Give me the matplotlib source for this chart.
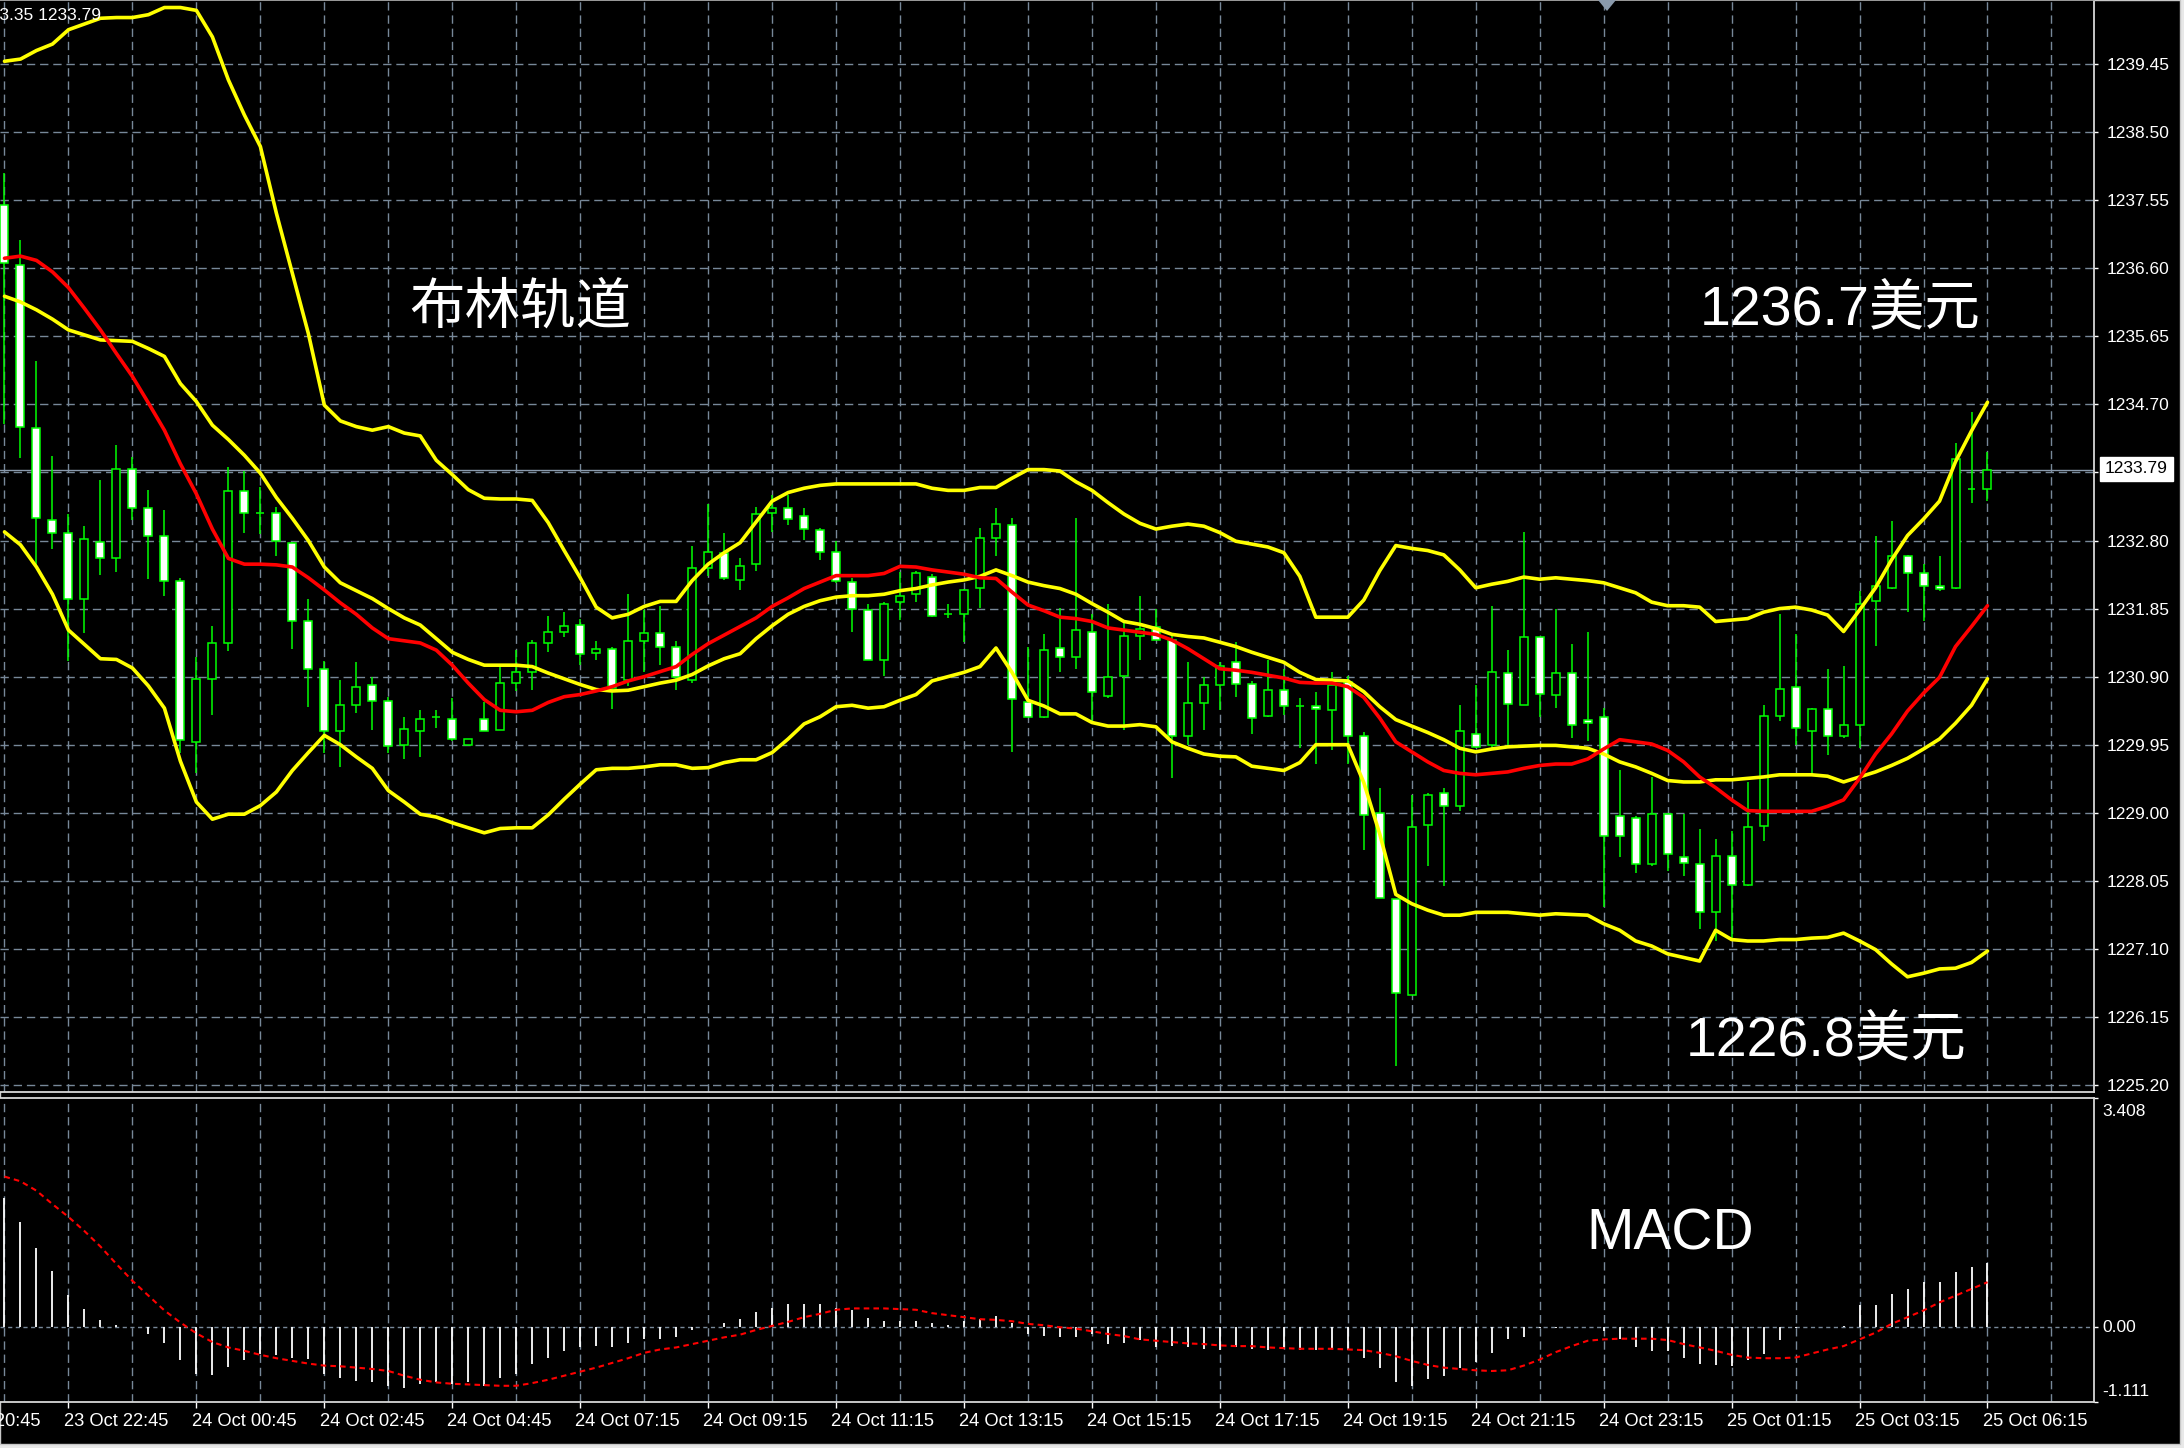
import matplotlib
matplotlib.use("Agg")
import matplotlib.pyplot as plt
import matplotlib.transforms as mtransforms
from matplotlib import font_manager
from matplotlib.patches import Rectangle, Polygon
import numpy as np

plt.rcParams['lines.scale_dashes'] = False

# ---------------- data ----------------
opens = [1237.48, 1236.64, 1234.37, 1233.08, 1232.91, 1231.99, 1232.78, 1232.55, 1233.80, 1233.25,
         1232.86, 1232.24, 1229.99, 1230.87, 1231.37, 1233.49, 1233.19, 1233.19, 1232.77, 1231.68,
         1231.01, 1230.14, 1230.51, 1230.79, 1230.56, 1229.95, 1230.14, 1230.33, 1230.31, 1229.95,
         1230.31, 1230.16, 1230.81, 1230.96, 1231.37, 1231.53, 1231.62, 1231.23, 1231.29, 1230.85,
         1231.40, 1231.51, 1231.32, 1230.85, 1232.41, 1232.63, 1232.25, 1232.47, 1233.19, 1233.25,
         1233.14, 1232.94, 1232.64, 1232.22, 1231.83, 1231.13, 1231.94, 1232.06, 1232.29, 1231.78,
         1231.78, 1232.14, 1232.83, 1233.02, 1230.54, 1230.34, 1231.30, 1231.17, 1231.52, 1230.63,
         1230.91, 1231.47, 1231.59, 1231.41, 1230.07, 1230.53, 1230.78, 1231.10, 1230.80, 1230.35,
         1230.71, 1230.49, 1230.49, 1230.43, 1230.82, 1230.07, 1228.99, 1227.80, 1226.45, 1228.83,
         1229.28, 1229.10, 1230.10, 1229.95, 1230.95, 1230.50, 1231.46, 1230.64, 1230.95, 1230.30,
         1230.33, 1228.96, 1228.93, 1228.28, 1228.98, 1228.38, 1228.28, 1227.62, 1228.40, 1227.99,
         1228.82, 1230.35, 1230.76, 1230.14, 1230.45, 1230.07, 1230.23, 1231.96, 1232.14, 1232.59,
         1232.35, 1232.16, 1232.14, 1233.52, 1233.52]
highs = [1237.93, 1237.00, 1235.30, 1233.98, 1233.17, 1233.00, 1233.64, 1234.14, 1233.96, 1233.50,
         1233.22, 1232.27, 1231.18, 1231.60, 1233.83, 1233.77, 1233.55, 1233.27, 1232.78, 1231.99,
         1231.12, 1230.86, 1231.10, 1230.90, 1230.62, 1230.33, 1230.43, 1230.43, 1230.60, 1230.03,
         1230.54, 1231.04, 1231.27, 1231.41, 1231.74, 1231.80, 1231.70, 1231.40, 1231.32, 1232.05,
         1231.83, 1231.88, 1231.40, 1232.72, 1233.31, 1232.91, 1232.56, 1233.27, 1233.44, 1233.44,
         1233.25, 1232.97, 1232.79, 1232.28, 1231.91, 1231.94, 1232.36, 1232.38, 1232.33, 1231.92,
         1232.13, 1232.98, 1233.25, 1233.12, 1231.32, 1231.50, 1231.86, 1233.12, 1231.78, 1231.91,
         1231.66, 1232.03, 1231.85, 1231.50, 1231.11, 1230.90, 1231.11, 1231.38, 1230.84, 1231.13,
         1231.01, 1230.60, 1230.69, 1230.97, 1230.91, 1230.13, 1229.35, 1227.80, 1229.25, 1229.28,
         1229.35, 1230.51, 1230.78, 1231.89, 1231.27, 1232.92, 1231.46, 1231.85, 1231.35, 1231.52,
         1230.46, 1229.60, 1228.96, 1229.50, 1229.00, 1228.98, 1228.78, 1228.64, 1228.75, 1229.43,
         1230.50, 1231.78, 1231.50, 1230.46, 1231.00, 1231.05, 1232.10, 1232.87, 1233.07, 1232.60,
         1232.47, 1232.59, 1234.16, 1234.59, 1234.04]
lows = [1234.42, 1233.95, 1232.46, 1232.68, 1231.12, 1231.51, 1232.32, 1232.36, 1233.09, 1232.26,
        1232.03, 1229.84, 1229.56, 1230.37, 1231.26, 1232.91, 1232.89, 1232.59, 1231.29, 1230.48,
        1229.84, 1229.64, 1230.39, 1230.16, 1229.84, 1229.75, 1229.78, 1230.18, 1230.00, 1229.95,
        1230.14, 1230.16, 1230.70, 1230.71, 1231.24, 1231.45, 1231.06, 1231.13, 1230.45, 1230.77,
        1230.96, 1231.06, 1230.71, 1230.81, 1232.31, 1232.25, 1232.11, 1232.38, 1232.92, 1233.02,
        1232.81, 1232.53, 1232.21, 1231.52, 1231.13, 1230.91, 1231.69, 1231.94, 1231.73, 1231.72,
        1231.38, 1231.86, 1232.58, 1229.85, 1230.34, 1230.32, 1230.96, 1231.00, 1230.28, 1230.60,
        1230.16, 1231.13, 1231.41, 1229.48, 1229.94, 1230.15, 1230.44, 1230.61, 1230.10, 1230.34,
        1230.36, 1229.90, 1229.68, 1229.87, 1229.68, 1228.48, 1227.81, 1225.46, 1226.45, 1228.26,
        1227.98, 1229.03, 1229.90, 1229.90, 1229.93, 1230.50, 1230.33, 1230.46, 1230.05, 1230.00,
        1227.69, 1228.38, 1228.16, 1228.26, 1228.19, 1228.12, 1227.38, 1227.21, 1227.25, 1227.98,
        1228.60, 1230.28, 1229.95, 1229.53, 1229.80, 1230.05, 1229.90, 1231.33, 1232.12, 1231.80,
        1231.67, 1232.09, 1232.12, 1233.32, 1233.35]
closes = [1236.67, 1234.38, 1233.11, 1232.91, 1231.99, 1232.82, 1232.55, 1233.80, 1233.25, 1232.86,
          1232.24, 1230.01, 1230.87, 1231.37, 1233.49, 1233.19, 1233.19, 1232.80, 1231.68, 1231.01,
          1230.14, 1230.51, 1230.76, 1230.56, 1229.93, 1230.17, 1230.31, 1230.33, 1230.03, 1230.03,
          1230.14, 1230.81, 1230.96, 1231.37, 1231.53, 1231.60, 1231.22, 1231.29, 1230.74, 1231.40,
          1231.51, 1231.32, 1230.90, 1232.41, 1232.64, 1232.28, 1232.44, 1233.17, 1233.26, 1233.10,
          1232.96, 1232.64, 1232.23, 1231.85, 1231.13, 1231.92, 1232.03, 1232.34, 1231.75, 1231.78,
          1232.11, 1232.83, 1233.03, 1230.59, 1230.34, 1231.27, 1231.17, 1231.55, 1230.68, 1230.90,
          1231.47, 1231.57, 1231.41, 1230.07, 1230.53, 1230.78, 1231.05, 1230.80, 1230.32, 1230.71,
          1230.49, 1230.49, 1230.45, 1230.79, 1230.07, 1228.97, 1227.81, 1226.49, 1228.80, 1229.25,
          1229.10, 1230.14, 1229.92, 1230.97, 1230.52, 1231.46, 1230.66, 1230.95, 1230.23, 1230.25,
          1228.68, 1228.68, 1228.28, 1228.98, 1228.43, 1228.30, 1227.62, 1228.40, 1227.99, 1228.80,
          1230.35, 1230.73, 1230.19, 1230.45, 1230.07, 1230.23, 1231.92, 1232.16, 1232.59, 1232.35,
          1232.16, 1232.12, 1233.94, 1233.52, 1233.79]

bb_upper = [1239.49, 1239.52, 1239.64, 1239.73, 1239.93, 1240.01, 1240.09, 1240.10, 1240.10, 1240.14,
            1240.24, 1240.24, 1240.20, 1239.83, 1239.23, 1238.74, 1238.30, 1237.37, 1236.53, 1235.69,
            1234.69, 1234.47, 1234.39, 1234.34, 1234.39, 1234.30, 1234.26, 1233.92, 1233.72, 1233.51,
            1233.39, 1233.38, 1233.38, 1233.36, 1233.05, 1232.66, 1232.28, 1231.87, 1231.72, 1231.77,
            1231.88, 1231.95, 1231.95, 1232.24, 1232.47, 1232.63, 1232.77, 1233.06, 1233.35, 1233.47,
            1233.53, 1233.57, 1233.59, 1233.59, 1233.59, 1233.59, 1233.59, 1233.59, 1233.53, 1233.50,
            1233.50, 1233.54, 1233.54, 1233.67, 1233.79, 1233.79, 1233.77, 1233.62, 1233.50, 1233.33,
            1233.17, 1233.04, 1232.96, 1233.00, 1233.03, 1233.00, 1232.91, 1232.79, 1232.75, 1232.71,
            1232.63, 1232.30, 1231.73, 1231.73, 1231.73, 1231.97, 1232.38, 1232.73, 1232.69, 1232.66,
            1232.60, 1232.39, 1232.14, 1232.19, 1232.23, 1232.29, 1232.26, 1232.28, 1232.26, 1232.24,
            1232.21, 1232.14, 1232.07, 1231.94, 1231.89, 1231.89, 1231.87, 1231.67, 1231.69, 1231.71,
            1231.80, 1231.85, 1231.87, 1231.83, 1231.76, 1231.53, 1231.83, 1232.14, 1232.53, 1232.87,
            1233.10, 1233.35, 1233.90, 1234.33, 1234.73]
bb_middle = [1236.21, 1236.13, 1236.02, 1235.89, 1235.74, 1235.67, 1235.60, 1235.59, 1235.58, 1235.48,
             1235.37, 1234.99, 1234.74, 1234.41, 1234.21, 1233.99, 1233.74, 1233.40, 1233.11, 1232.80,
             1232.43, 1232.21, 1232.10, 1231.99, 1231.85, 1231.72, 1231.62, 1231.43, 1231.24, 1231.14,
             1231.06, 1231.06, 1231.06, 1231.04, 1230.95, 1230.87, 1230.79, 1230.72, 1230.70, 1230.71,
             1230.76, 1230.81, 1230.85, 1230.93, 1231.05, 1231.15, 1231.22, 1231.43, 1231.61, 1231.77,
             1231.88, 1231.96, 1232.01, 1232.03, 1232.03, 1232.05, 1232.10, 1232.13, 1232.18, 1232.22,
             1232.25, 1232.30, 1232.39, 1232.31, 1232.22, 1232.17, 1232.13, 1232.05, 1231.92, 1231.80,
             1231.67, 1231.63, 1231.57, 1231.49, 1231.46, 1231.44, 1231.38, 1231.32, 1231.24, 1231.17,
             1231.10, 1230.96, 1230.86, 1230.85, 1230.84, 1230.69, 1230.48, 1230.30, 1230.21, 1230.12,
             1230.02, 1229.90, 1229.85, 1229.89, 1229.92, 1229.93, 1229.94, 1229.94, 1229.92, 1229.90,
             1229.82, 1229.71, 1229.64, 1229.55, 1229.45, 1229.43, 1229.43, 1229.46, 1229.46, 1229.48,
             1229.50, 1229.53, 1229.53, 1229.53, 1229.51, 1229.43, 1229.50, 1229.57, 1229.66, 1229.76,
             1229.89, 1230.03, 1230.25, 1230.50, 1230.87]
bb_lower = [1232.92, 1232.74, 1232.43, 1232.05, 1231.55, 1231.35, 1231.15, 1231.14, 1231.02, 1230.77,
            1230.46, 1229.72, 1229.15, 1228.91, 1228.98, 1228.98, 1229.10, 1229.29, 1229.59, 1229.84,
            1230.08, 1229.95, 1229.78, 1229.62, 1229.31, 1229.15, 1228.98, 1228.94, 1228.86, 1228.79,
            1228.72, 1228.78, 1228.79, 1228.79, 1228.97, 1229.19, 1229.40, 1229.60, 1229.62, 1229.62,
            1229.64, 1229.67, 1229.67, 1229.62, 1229.63, 1229.70, 1229.74, 1229.74, 1229.84, 1230.03,
            1230.24, 1230.34, 1230.48, 1230.50, 1230.46, 1230.48, 1230.57, 1230.65, 1230.84, 1230.90,
            1230.96, 1231.04, 1231.30, 1230.96, 1230.57, 1230.49, 1230.38, 1230.38, 1230.26, 1230.21,
            1230.21, 1230.23, 1230.20, 1229.99, 1229.90, 1229.82, 1229.79, 1229.78, 1229.65, 1229.62,
            1229.59, 1229.70, 1229.95, 1229.95, 1229.95, 1229.42, 1228.70, 1227.86, 1227.73, 1227.64,
            1227.57, 1227.57, 1227.61, 1227.61, 1227.61, 1227.59, 1227.57, 1227.59, 1227.58, 1227.57,
            1227.45, 1227.36, 1227.21, 1227.14, 1227.03, 1226.98, 1226.93, 1227.36, 1227.23, 1227.21,
            1227.21, 1227.23, 1227.23, 1227.25, 1227.26, 1227.32, 1227.21, 1227.09, 1226.89, 1226.71,
            1226.76, 1226.82, 1226.83, 1226.91, 1227.07]
ma_red = [1236.74, 1236.77, 1236.71, 1236.55, 1236.33, 1236.04, 1235.74, 1235.41, 1235.09, 1234.72,
          1234.34, 1233.87, 1233.45, 1232.96, 1232.55, 1232.47, 1232.47, 1232.46, 1232.43, 1232.28,
          1232.11, 1231.93, 1231.77, 1231.58, 1231.43, 1231.40, 1231.37, 1231.27, 1231.06, 1230.81,
          1230.58, 1230.43, 1230.41, 1230.43, 1230.54, 1230.62, 1230.65, 1230.70, 1230.76, 1230.84,
          1230.90, 1230.97, 1231.04, 1231.21, 1231.36, 1231.48, 1231.60, 1231.72, 1231.88, 1232.00,
          1232.13, 1232.22, 1232.31, 1232.31, 1232.31, 1232.34, 1232.44, 1232.43, 1232.39, 1232.36,
          1232.33, 1232.28, 1232.27, 1232.08, 1231.90, 1231.82, 1231.73, 1231.71, 1231.67, 1231.58,
          1231.55, 1231.52, 1231.49, 1231.41, 1231.29, 1231.15, 1231.01, 1230.99, 1230.96, 1230.92,
          1230.88, 1230.82, 1230.81, 1230.81, 1230.76, 1230.61, 1230.32, 1229.99, 1229.85, 1229.71,
          1229.59, 1229.55, 1229.53, 1229.55, 1229.57, 1229.62, 1229.66, 1229.68, 1229.68, 1229.75,
          1229.89, 1230.02, 1229.99, 1229.96, 1229.87, 1229.71, 1229.50, 1229.35, 1229.18, 1229.03,
          1229.02, 1229.02, 1229.02, 1229.02, 1229.09, 1229.18, 1229.48, 1229.82, 1230.10, 1230.42,
          1230.67, 1230.89, 1231.32, 1231.60, 1231.89]

macd_hist = [1.92, 1.56, 1.18, 0.84, 0.48, 0.27, 0.11, 0.04, 0.01, -0.10,
             -0.23, -0.49, -0.70, -0.71, -0.59, -0.49, -0.40, -0.41, -0.46, -0.47,
             -0.70, -0.76, -0.80, -0.82, -0.87, -0.90, -0.84, -0.82, -0.85, -0.82,
             -0.87, -0.76, -0.69, -0.55, -0.46, -0.36, -0.30, -0.28, -0.29, -0.23,
             -0.18, -0.18, -0.15, -0.04, 0.00, 0.06, 0.12, 0.22, 0.29, 0.35,
             0.35, 0.35, 0.29, 0.25, 0.14, 0.10, 0.10, 0.10, 0.06, 0.04,
             0.09, 0.12, 0.16, 0.06, -0.10, -0.13, -0.15, -0.15, -0.10, -0.25,
             -0.23, -0.19, -0.30, -0.28, -0.30, -0.32, -0.34, -0.30, -0.32, -0.34,
             -0.32, -0.34, -0.34, -0.32, -0.34, -0.45, -0.61, -0.82, -0.87, -0.77,
             -0.72, -0.61, -0.52, -0.39, -0.18, -0.14, -0.01, -0.01, 0.00, 0.00,
             -0.05, -0.18, -0.30, -0.35, -0.36, -0.45, -0.55, -0.56, -0.57, -0.49,
             -0.40, -0.19, -0.01, 0.00, 0.00, 0.02, 0.33, 0.33, 0.49, 0.57,
             0.67, 0.67, 0.82, 0.90, 0.96]
macd_signal = [2.24, 2.17, 2.03, 1.83, 1.64, 1.43, 1.20, 0.94, 0.69, 0.47,
               0.25, 0.07, -0.09, -0.22, -0.30, -0.35, -0.41, -0.46, -0.50, -0.54,
               -0.57, -0.58, -0.60, -0.62, -0.65, -0.72, -0.78, -0.82, -0.84, -0.85,
               -0.86, -0.87, -0.87, -0.83, -0.78, -0.72, -0.66, -0.60, -0.53, -0.46,
               -0.38, -0.33, -0.30, -0.25, -0.20, -0.15, -0.11, -0.04, 0.02, 0.08,
               0.15, 0.20, 0.26, 0.28, 0.28, 0.28, 0.27, 0.26, 0.21, 0.18,
               0.15, 0.12, 0.11, 0.09, 0.05, 0.03, 0.00, -0.02, -0.06, -0.10,
               -0.13, -0.18, -0.20, -0.22, -0.24, -0.25, -0.27, -0.28, -0.28, -0.30,
               -0.31, -0.32, -0.32, -0.32, -0.33, -0.34, -0.38, -0.43, -0.50, -0.56,
               -0.60, -0.62, -0.64, -0.65, -0.64, -0.57, -0.48, -0.37, -0.28, -0.20,
               -0.18, -0.17, -0.17, -0.17, -0.19, -0.25, -0.30, -0.35, -0.41, -0.45,
               -0.46, -0.46, -0.45, -0.39, -0.33, -0.28, -0.18, -0.08, 0.05, 0.15,
               0.25, 0.37, 0.47, 0.57, 0.67]

price_grid = [1239.45, 1238.50, 1237.55, 1236.60, 1235.65, 1234.70, 1233.75, 1232.80,
              1231.85, 1230.90, 1229.95, 1229.00, 1228.05, 1227.10, 1226.15, 1225.20]
price_labels = ["1239.45", "1238.50", "1237.55", "1236.60", "1235.65", "1234.70", "", "1232.80",
                "1231.85", "1230.90", "1229.95", "1229.00", "1228.05", "1227.10", "1226.15", "1225.20"]
bid_price = 1233.79
macd_levels = [3.408, 0.0, -1.111]
macd_labels = ["3.408", "0.00", "-1.111"]
time_pos = [-4, 4, 12, 20, 28, 36, 44, 52, 60, 68, 76, 84, 92, 100, 108, 116, 124]
time_labels = ["23 Oct 20:45", "23 Oct 22:45", "24 Oct 00:45", "24 Oct 02:45", "24 Oct 04:45",
               "24 Oct 07:15", "24 Oct 09:15", "24 Oct 11:15", "24 Oct 13:15", "24 Oct 15:15",
               "24 Oct 17:15", "24 Oct 19:15", "24 Oct 21:15", "24 Oct 23:15", "25 Oct 01:15",
               "25 Oct 03:15", "25 Oct 06:15"]
vgrid_pos = list(range(0, 129, 4))

# ---------------- style ----------------
W, H = 2184, 1448
GRID = '#778899'
GREEN = '#00FF00'
YELLOW = '#FFFF00'
RED = '#FF0000'
SPINE = '#D8D8D8'
LAT = ['Liberation Sans', 'DejaVu Sans']
CJK = ['Liberation Sans', 'Noto Sans CJK SC', 'DejaVu Sans']

installed = {f.name for f in font_manager.fontManager.ttflist}
if 'Liberation Sans Narrow' in installed:
    macd_font, macd_size = ['Liberation Sans Narrow'], 49
elif 'DejaVu Sans Condensed' in installed:
    macd_font, macd_size = ['DejaVu Sans Condensed'], 44
else:
    macd_font, macd_size = ['Liberation Sans', 'DejaVu Sans'], 41

fig = plt.figure(figsize=(W / 100, H / 100), dpi=100, facecolor='#E8E8E8')
fig.add_artist(Rectangle((0, 4 / H), 2180 / W, 1 - 4 / H, transform=fig.transFigure,
                         facecolor='black', edgecolor='#C8C8C8', lw=1.0, zorder=0))

ax = fig.add_axes([0, 1 - 1092 / H, 2094 / W, 1092 / H])
ax2 = fig.add_axes([0, 1 - 1402 / H, 2094 / W, 304 / H])

for a in (ax, ax2):
    a.set_facecolor('black')
    a.spines['left'].set_visible(False)
    for s in ('top', 'right', 'bottom'):
        a.spines[s].set_color(SPINE)
        a.spines[s].set_linewidth(1.3)
    a.set_xlim(-0.281, 130.66)
ax.spines['top'].set_color('#A8A8A8')

# grid
for p in price_grid:
    ax.axhline(p, color=GRID, lw=1.0, dashes=(6, 3.5), zorder=0.5)
for v in vgrid_pos:
    ax.axvline(v, color=GRID, lw=1.0, dashes=(6, 3.5), zorder=0.5)
    ax2.axvline(v, color=GRID, lw=1.0, dashes=(6, 3.5), zorder=0.5)
ax2.axhline(0, color=GRID, lw=1.0, dashes=(3, 2.5), zorder=0.5)
ax.axhline(bid_price, color='#8A9AAC', lw=1.0, zorder=0.6)

# candles
idx = np.arange(len(closes))
o = np.array(opens); c = np.array(closes)
ax.vlines(idx, lows, highs, color=GREEN, lw=1.1, zorder=2)
bull = c >= o
ax.bar(idx, np.abs(c - o), bottom=np.minimum(o, c), width=0.5,
       color=np.where(bull, 'black', 'white'), edgecolor=GREEN, linewidth=1.1, zorder=3)

# bands
for series, col in ((bb_upper, YELLOW), (bb_middle, YELLOW), (bb_lower, YELLOW), (ma_red, RED)):
    ax.plot(idx, series, color=col, lw=2.6, zorder=4, solid_joinstyle='round', solid_capstyle='round')

ax.set_ylim(1240.345 - 1092 / 71.64, 1240.345)
ax.set_xticks([])
ax.yaxis.tick_right()
ax.set_yticks(price_grid)
ax.set_yticklabels(price_labels, family=LAT, fontsize=12.5, color='white')
ax.tick_params(axis='y', colors='white', length=3, width=1, pad=6, labelcolor='white')

# shift marker
tx = (1607 / 2094)
ax.add_patch(Polygon([(tx - 9 / 2094, 1.0), (tx + 9 / 2094, 1.0), (tx, 1 - 11 / 1092)],
                     closed=True, transform=ax.transAxes, facecolor='#8A9AAC', edgecolor='none',
                     zorder=6, clip_on=False))

# MACD
ax2.vlines(idx, 0, macd_hist, color='white', lw=1.3, zorder=2)
ax2.plot(idx, macd_signal, color=RED, lw=1.5, dashes=(4, 3), zorder=3)
ax2.set_ylim(-1.111, 3.408)
ax2.yaxis.tick_right()
ax2.set_yticks(macd_levels)
ax2.set_yticklabels([])
ax2.tick_params(axis='y', colors='white', length=3, width=1)
ytrans = mtransforms.blended_transform_factory(ax2.transAxes, ax2.transData)
ax2.text(1 + 8 / 2094, macd_levels[0], macd_labels[0], transform=ytrans, ha='left', va='top',
         color='white', fontsize=12.5, family=LAT, clip_on=False,
         )
ax2.texts[-1].set_transform(ytrans + mtransforms.ScaledTranslation(0, -6 / 100, fig.dpi_scale_trans))
ax2.text(1 + 8 / 2094, macd_levels[1], macd_labels[1], transform=ytrans, ha='left', va='center',
         color='white', fontsize=12.5, family=LAT, clip_on=False)
ax2.text(1 + 8 / 2094, macd_levels[2], macd_labels[2], transform=ytrans, ha='left', va='bottom',
         color='white', fontsize=12.5, family=LAT, clip_on=False)
ax2.texts[-1].set_transform(ytrans + mtransforms.ScaledTranslation(0, 3 / 100, fig.dpi_scale_trans))

ax2.set_xticks([p for p in time_pos if p >= 0])
ax2.tick_params(axis='x', colors='white', length=4, width=1, labelbottom=False)

trans = mtransforms.blended_transform_factory(ax2.transData, ax2.transAxes)
for p, lab in zip(time_pos, time_labels):
    ax2.text(p - 0.3, -20 / 304, lab, transform=trans, ha='left', va='center', color='white',
             fontsize=13.2, family=LAT, clip_on=False)

# bid price box
fig.text(2105 / W, 1 - 469 / H, "1233.79", color='black', fontsize=12.5, family=LAT,
         ha='left', va='center',
         bbox=dict(boxstyle='square,pad=0.28', facecolor='white', edgecolor='white'))

# header text (cut at the left edge as in the original screenshot)
fig.text(101 / W, 1 - 16 / H, "XAUUSD,M15  1233.52 1234.04 1233.35 1233.79", color='white',
         fontsize=12.5, family=LAT, ha='right', va='center')

# annotations
fig.text(520 / W, 1 - 310 / H, "布林轨道", color='white', fontsize=40, family=CJK,
         ha='center', va='center')
fig.text(1840 / W, 1 - 310 / H, "1236.7美元", color='white', fontsize=40, family=CJK,
         ha='center', va='center')
fig.text(1826 / W, 1 - 1041 / H, "1226.8美元", color='white', fontsize=40, family=CJK,
         ha='center', va='center')
fig.text(1670 / W, 1 - 1235 / H, "MACD", color='white', fontsize=macd_size,
         family=macd_font, ha='center', va='center')

fig.savefig("out.png", dpi=100, facecolor=fig.get_facecolor())
